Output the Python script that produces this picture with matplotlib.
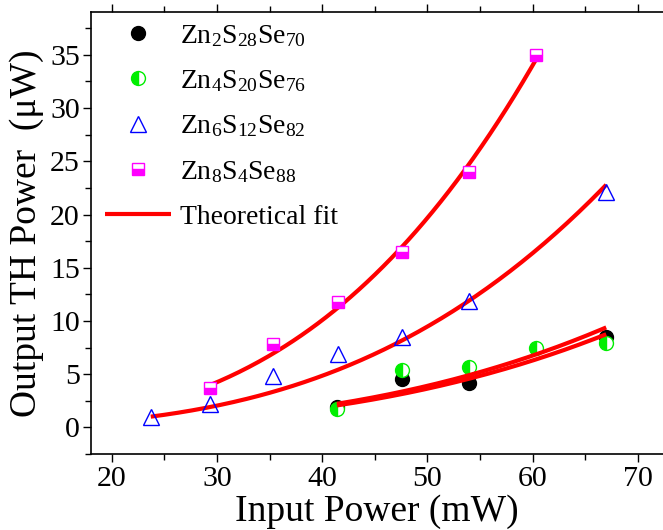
import numpy as np
import matplotlib.pyplot as plt
from matplotlib.ticker import MultipleLocator

plt.rcParams['font.family'] = ['Liberation Serif', 'DejaVu Serif']
plt.rcParams['mathtext.fontset'] = 'custom'
plt.rcParams['mathtext.rm'] = 'Liberation Serif'
plt.rcParams['mathtext.it'] = 'Liberation Serif:italic'

# дані
x_zn2 = [41.4, 47.6, 54.0, 67.0]
y_zn2 = [1.9, 4.5, 4.2, 8.5]

x_zn4 = [41.4, 47.6, 54.0, 60.3, 67.0]
y_zn4 = [1.7, 5.4, 5.7, 7.5, 7.9]

x_zn6 = [23.7, 29.3, 35.3, 41.5, 47.6, 54.0, 67.0]
y_zn6 = [1.0, 2.2, 4.8, 6.9, 8.5, 11.9, 22.1]

x_zn8 = [29.3, 35.3, 41.5, 47.6, 54.0, 60.3]
y_zn8 = [3.7, 7.8, 11.8, 16.5, 24.0, 35.0]

labels = [r'Zn$_{\mathrm{2}}$S$_{\mathrm{28}}$Se$_{\mathrm{70}}$',
          r'Zn$_{\mathrm{4}}$S$_{\mathrm{20}}$Se$_{\mathrm{76}}$',
          r'Zn$_{\mathrm{6}}$S$_{\mathrm{12}}$Se$_{\mathrm{82}}$',
          r'Zn$_{\mathrm{8}}$S$_{\mathrm{4}}$Se$_{\mathrm{88}}$']


# кубічна апроксимація P_out = a * P_in^3 (метод найменших квадратів)
def cubic_fit(x, y):
    x = np.asarray(x)
    y = np.asarray(y)
    a = np.sum(y * x**3) / np.sum(x**6)
    xs = np.linspace(x.min(), x.max(), 200)
    return xs, a * xs**3


fig = plt.figure(figsize=(6.63, 5.30), dpi=100)
ax = fig.add_axes([0.137, 0.1434, 0.863, 0.8334])

h1, = ax.plot(x_zn2, y_zn2, 'o', ms=10, color='black', mec='black', ls='none', zorder=2)
h2, = ax.plot(x_zn4, y_zn4, 'o', ms=10, fillstyle='left', mfc='#00ee00', mfcalt='white',
              mec='#00ee00', mew=1, ls='none', zorder=2)

fit_handle = None
for xd, yd in [(x_zn2, y_zn2), (x_zn4, y_zn4), (x_zn6, y_zn6), (x_zn8, y_zn8)]:
    xs, ys = cubic_fit(xd, yd)
    fit_handle, = ax.plot(xs, ys, color='red', lw=3, solid_capstyle='butt', zorder=3)

h3, = ax.plot(x_zn6, y_zn6, '^', ms=11, mfc='none', mec='blue', mew=1, ls='none', zorder=4)
h4, = ax.plot(x_zn8, y_zn8, 's', ms=9, fillstyle='bottom', mfc='magenta', mfcalt='white',
              mec='magenta', mew=1, ls='none', zorder=4)

ax.set_xlim(18, 72.4)
ax.set_ylim(-2.5, 39)
ax.xaxis.set_major_locator(MultipleLocator(10))
ax.xaxis.set_minor_locator(MultipleLocator(5))
ax.yaxis.set_major_locator(MultipleLocator(5))
ax.yaxis.set_minor_locator(MultipleLocator(2.5))
ax.tick_params(which='both', direction='out', labelsize=21.5, width=1, pad=2)
ax.tick_params(which='major', length=6)
ax.tick_params(which='minor', length=4)
ax.tick_params(axis='x', which='both', top=True, pad=3)
ax.spines['right'].set_visible(False)
for s in ['left', 'bottom', 'top']:
    ax.spines[s].set_linewidth(1.2)

ax.set_xlabel('Input Power (mW)', fontsize=27, labelpad=1)
ax.set_ylabel('Output TH Power  (\u03bcW)', fontsize=27, labelpad=4)

ax.legend([h1, h2, h3, h4, fit_handle], labels + ['Theoretical fit'],
          loc='upper left', bbox_to_anchor=(-0.01, 1.02), frameon=False, fontsize=20,
          handlelength=2.4, handletextpad=0.3, labelspacing=0.7, borderpad=0.2)

plt.savefig('out.png', dpi=100)
